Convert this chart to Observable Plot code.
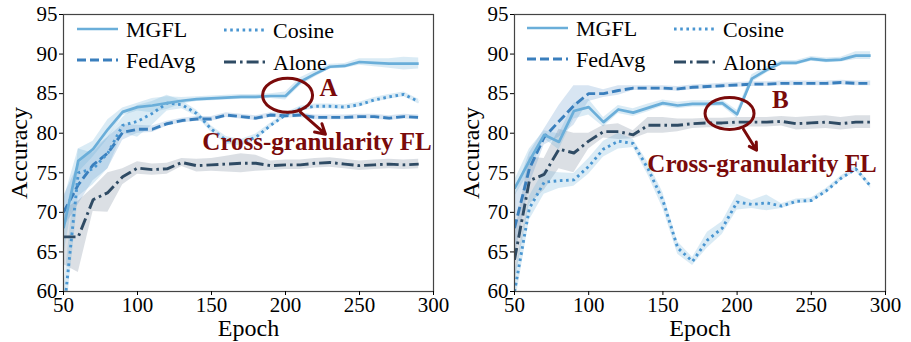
<!DOCTYPE html>
<html>
<head>
<meta charset="utf-8">
<script src="https://cdn.jsdelivr.net/npm/d3@7"></script>
<script src="https://cdn.jsdelivr.net/npm/@observablehq/plot@0.6"></script>
<style>
  html, body { margin: 0; padding: 0; background: #fff; }
  #wrap { display: flex; width: 911px; height: 342px; }
  .panel { position: relative; }
  .panel svg.overlay { position: absolute; left: 0; top: 0; pointer-events: none; }
  .panel svg, .panel svg text { font-family: "Liberation Serif", "Times New Roman", serif !important; }
</style>
</head>
<body>
<div id="wrap"></div>
<script>
// ---------------- DATA ----------------
const epochs = [50,60,70,80,90,100,110,120,130,140,150,160,170,180,190,200,210,220,230,240,250,260,270,280,290];
const seriesNames = ["MGFL", "FedAvg", "Cosine", "Alone"];

// Left panel (A)
const leftMGFL   = [68.0,76.5,78.0,80.5,82.7,83.3,83.5,83.8,84.1,84.3,84.4,84.5,84.6,84.6,84.7,84.7,86.5,87.5,88.4,88.5,89.0,88.9,88.8,88.8,88.8];
const leftMGFLsd = [3.5,1.5,1.0,1.2,0.5,0.5,0.9,0.8,0.4,0.3,0.3,0.3,0.3,0.3,0.3,0.5,0.5,0.4,0.3,0.3,0.4,0.5,0.6,0.8,0.7];
const leftFedAvg   = [70.0,73.5,76.0,77.5,80.1,80.5,80.5,81.2,81.6,81.8,81.8,82.3,82.1,81.9,82.3,82.2,82.3,82.0,82.0,82.0,82.1,82.1,81.9,82.1,82.0];
const leftFedAvgSd = [2.0,2.5,2.0,2.0,1.0,0.5,0.4,0.3,0.3,0.3,0.3,0.3,0.3,0.3,0.3,0.3,0.3,0.3,0.3,0.3,0.3,0.3,0.3,0.3,0.3];
const leftCosine   = [57.0,75.0,75.5,77.5,81.0,81.5,82.5,83.8,83.6,82.5,80.5,79.1,78.8,79.5,81.0,82.3,83.1,83.4,83.4,83.3,83.6,84.2,84.6,84.9,84.0];
const leftCosineSd = [3.0,3.0,2.0,2.0,1.0,2.0,1.5,1.0,0.5,0.4,0.4,0.5,0.4,0.4,0.3,0.3,0.3,0.3,0.3,0.3,0.3,0.3,0.3,0.3,0.3];
const leftAlone   = [66.9,66.9,71.6,72.5,74.5,75.6,75.4,75.5,76.3,75.9,76.0,76.1,76.2,76.2,75.9,76.0,76.0,76.2,76.3,76.1,75.9,76.0,76.1,76.0,76.1];
const leftAloneSd = [3.5,4.5,1.5,2.5,1.0,0.8,0.7,0.7,0.5,0.8,0.8,1.0,1.2,1.0,0.6,0.6,0.6,0.6,0.6,0.6,0.6,0.6,0.6,0.6,0.6];

// Right panel (B)
const rightMGFL   = [73.0,76.5,79.8,78.9,82.8,83.3,81.4,83.0,82.6,83.2,83.8,83.5,83.7,83.7,83.8,82.4,86.9,88.0,88.9,88.9,89.4,89.2,89.3,89.8,89.8];
const rightMGFLsd = [1.0,1.5,0.5,1.0,1.0,1.0,0.6,0.5,0.5,0.5,0.4,0.4,0.4,0.4,0.4,0.5,0.5,0.4,0.3,0.3,0.3,0.3,0.3,0.5,0.5];
const rightFedAvg   = [68.0,75.5,79.5,81.5,83.5,85.0,85.0,85.4,85.7,85.7,85.7,85.6,85.8,85.9,86.0,86.1,86.2,86.2,86.3,86.3,86.3,86.3,86.4,86.3,86.3];
const rightFedAvgSd = [4.0,2.0,1.0,2.0,2.5,1.0,0.5,0.6,0.3,0.3,0.3,0.3,0.3,0.3,0.3,0.3,0.3,0.3,0.3,0.3,0.3,0.3,0.3,0.3,0.3];
const rightCosine   = [60.0,70.5,73.8,74.0,74.1,75.8,78.0,79.0,78.7,75.5,71.5,65.5,63.8,66.5,68.0,71.3,71.0,71.2,70.8,71.4,71.5,72.7,74.3,75.5,73.3];
const rightCosineSd = [2.0,1.5,1.5,1.0,0.8,1.0,1.0,1.0,0.5,0.8,1.0,0.8,0.5,1.0,0.8,1.0,0.5,1.0,0.3,0.3,0.3,0.3,0.3,0.3,0.3];
const rightAlone   = [64.0,74.0,74.8,78.0,77.5,79.0,80.2,80.2,79.8,81.0,81.0,81.0,81.2,81.3,81.3,81.4,81.4,81.4,81.5,81.2,81.3,81.4,81.2,81.4,81.4];
const rightAloneSd = [3.0,3.0,2.0,2.5,2.5,1.0,0.8,1.0,0.5,1.0,1.0,0.8,0.6,0.6,0.6,0.6,0.6,0.6,0.6,0.8,0.8,0.8,0.8,0.8,0.8];

const xTicks = [50,100,150,200,250,300];
const yTicks = [60,65,70,75,80,85,90,95];
const annotationLabel = "Cross-granularity FL";
// annotation anchors in data units: ellipse centre, arrow start/end, letter, caption
const leftAnno  = {letter: "A", ex: 201.4, ey: 84.8, ax1: 210.1, ay1: 82.66, ax2: 227.0, ay2: 79.87, lx: 229.1, ly: 85.7, tx: 221.3, ty: 78.9};
const rightAnno = {letter: "B", ex: 194.9, ey: 82.5, ax1: 204.3, ay1: 80.5, ax2: 213.1, ay2: 77.85, lx: 229.2, ly: 84.2, tx: 216.8, ty: 76.1};

// ---------------- STYLE ----------------
const FONT = "Liberation Serif, Times New Roman, serif";
const RED = "#7a0a0a";
const styles = {
  MGFL:   {stroke: "#6aaed9", fill: "#6aaed9", dash: null,          width: 2.7, fop: 0.25},
  FedAvg: {stroke: "#3a7fbd", fill: "#3a7fbd", dash: "9,4",        width: 2.9, fop: 0.2},
  Cosine: {stroke: "#4a96d1", fill: "#6aaed9", dash: "2.6,3.6",    width: 2.9, fop: 0.25},
  Alone:  {stroke: "#2f4b64", fill: "#5a6f82", dash: "12,4,2.6,4", width: 2.9, fop: 0.22}
};

function rows(values, sds) {
  return epochs.map((e, i) => ({epoch: e, value: values[i], lo: values[i] - sds[i], hi: values[i] + sds[i]}));
}

// ellipse symbol (annotation ring)
function ellipseSymbol(rx, ry) {
  return {
    draw(context) {
      const k = 0.5522847498;
      context.moveTo(rx, 0);
      context.bezierCurveTo(rx, ry * k, rx * k, ry, 0, ry);
      context.bezierCurveTo(-rx * k, ry, -rx, ry * k, -rx, 0);
      context.bezierCurveTo(-rx, -ry * k, -rx * k, -ry, 0, -ry);
      context.bezierCurveTo(rx * k, -ry, rx, -ry * k, rx, 0);
      context.closePath();
    }
  };
}

function makePanel(cfg) {
  const marks = [];
  const data = cfg.data;
  const order = ["Alone", "FedAvg", "Cosine", "MGFL"];
  for (const name of order) {
    const st = styles[name];
    marks.push(Plot.areaY(data[name], {x: "epoch", y1: "lo", y2: "hi", fill: st.fill, fillOpacity: st.fop, clip: true}));
  }
  for (const name of order) {
    const st = styles[name];
    marks.push(Plot.line(data[name], {x: "epoch", y: "value", stroke: st.stroke, strokeWidth: st.width,
      strokeDasharray: st.dash, strokeLinecap: "butt", strokeLinejoin: "round", clip: true}));
  }
  const a = cfg.anno;
  marks.push(Plot.dot([a], {x: "ex", y: "ey", symbol: ellipseSymbol(cfg.erx, cfg.ery), r: 1, stroke: RED, strokeWidth: 3, fill: "none"}));
  marks.push(Plot.arrow([a], {x1: "ax1", y1: "ay1", x2: "ax2", y2: "ay2", stroke: RED, strokeWidth: 3, headLength: 12, bend: 0}));
  marks.push(Plot.text([a], {x: "lx", y: "ly", text: "letter", fill: RED, fontSize: 25, fontWeight: "bold", fontFamily: FONT}));
  marks.push(Plot.text([a], {x: "tx", y: "ty", text: () => annotationLabel, fill: RED, fontSize: 25, fontWeight: "bold", fontFamily: FONT}));
  marks.push(Plot.frame({stroke: "#444", strokeWidth: 1.2}));
  marks.push(Plot.axisX({ticks: xTicks, tickSize: 4, tickPadding: 2, fontSize: 21, fontFamily: FONT, label: "Epoch", labelAnchor: "center", labelOffset: 44, labelArrow: "none"}));
  marks.push(Plot.axisY({ticks: yTicks, tickSize: 4, tickPadding: 2, fontSize: 21, fontFamily: FONT, label: "Accuracy", labelAnchor: "center", labelOffset: cfg.yLabelOffset, labelArrow: "none"}));

  const plot = Plot.plot({
    width: cfg.width, height: 342,
    marginLeft: cfg.ml, marginRight: cfg.mr, marginTop: 14, marginBottom: 51,
    x: {domain: [50, 300]},
    y: {domain: [60, 95]},
    style: {fontFamily: FONT, fontSize: "21px", color: "#000", background: "#fff", overflow: "visible"},
    marks
  });
  plot.querySelectorAll("g[aria-label='x-axis label'] text, g[aria-label='y-axis label'] text").forEach(t => t.setAttribute("font-size", "24"));
  plot.querySelectorAll("g[aria-label='x-axis label'], g[aria-label='y-axis label']").forEach(g => g.setAttribute("font-size", "24"));

  const div = document.createElement("div");
  div.className = "panel";
  div.style.width = cfg.width + "px";
  div.style.height = "342px";
  div.appendChild(plot);

  // legend overlay
  const svg = d3.select(div).append("svg").attr("class", "overlay").attr("width", cfg.width).attr("height", 342)
    .attr("font-family", FONT);
  for (const item of cfg.legend) {
    const st = styles[item.name];
    svg.append("line").attr("x1", item.x).attr("x2", item.x + 41).attr("y1", item.y).attr("y2", item.y)
      .attr("stroke", st.stroke).attr("stroke-width", st.width).attr("stroke-dasharray", st.dash);
    svg.append("text").attr("x", item.x + 49).attr("y", item.y).attr("dy", "0.35em").attr("font-size", 22).attr("fill", "#000").text(item.name);
  }
  return div;
}

const wrap = document.getElementById("wrap");
wrap.appendChild(makePanel({
  width: 455, ml: 63, mr: 22, yLabelOffset: 54, erx: 25, ery: 17,
  data: {MGFL: rows(leftMGFL, leftMGFLsd), FedAvg: rows(leftFedAvg, leftFedAvgSd), Cosine: rows(leftCosine, leftCosineSd), Alone: rows(leftAlone, leftAloneSd)},
  anno: leftAnno,
  legend: [{name: "MGFL", x: 77, y: 29}, {name: "FedAvg", x: 77, y: 60}, {name: "Cosine", x: 224, y: 30}, {name: "Alone", x: 224, y: 62}]
}));
wrap.appendChild(makePanel({
  width: 456, ml: 59, mr: 26, yLabelOffset: 53, erx: 24.5, ery: 16,
  data: {MGFL: rows(rightMGFL, rightMGFLsd), FedAvg: rows(rightFedAvg, rightFedAvgSd), Cosine: rows(rightCosine, rightCosineSd), Alone: rows(rightAlone, rightAloneSd)},
  anno: rightAnno,
  legend: [{name: "MGFL", x: 72, y: 28}, {name: "FedAvg", x: 72, y: 59}, {name: "Cosine", x: 219, y: 29}, {name: "Alone", x: 219, y: 62}]
}));
</script>
</body>
</html>
